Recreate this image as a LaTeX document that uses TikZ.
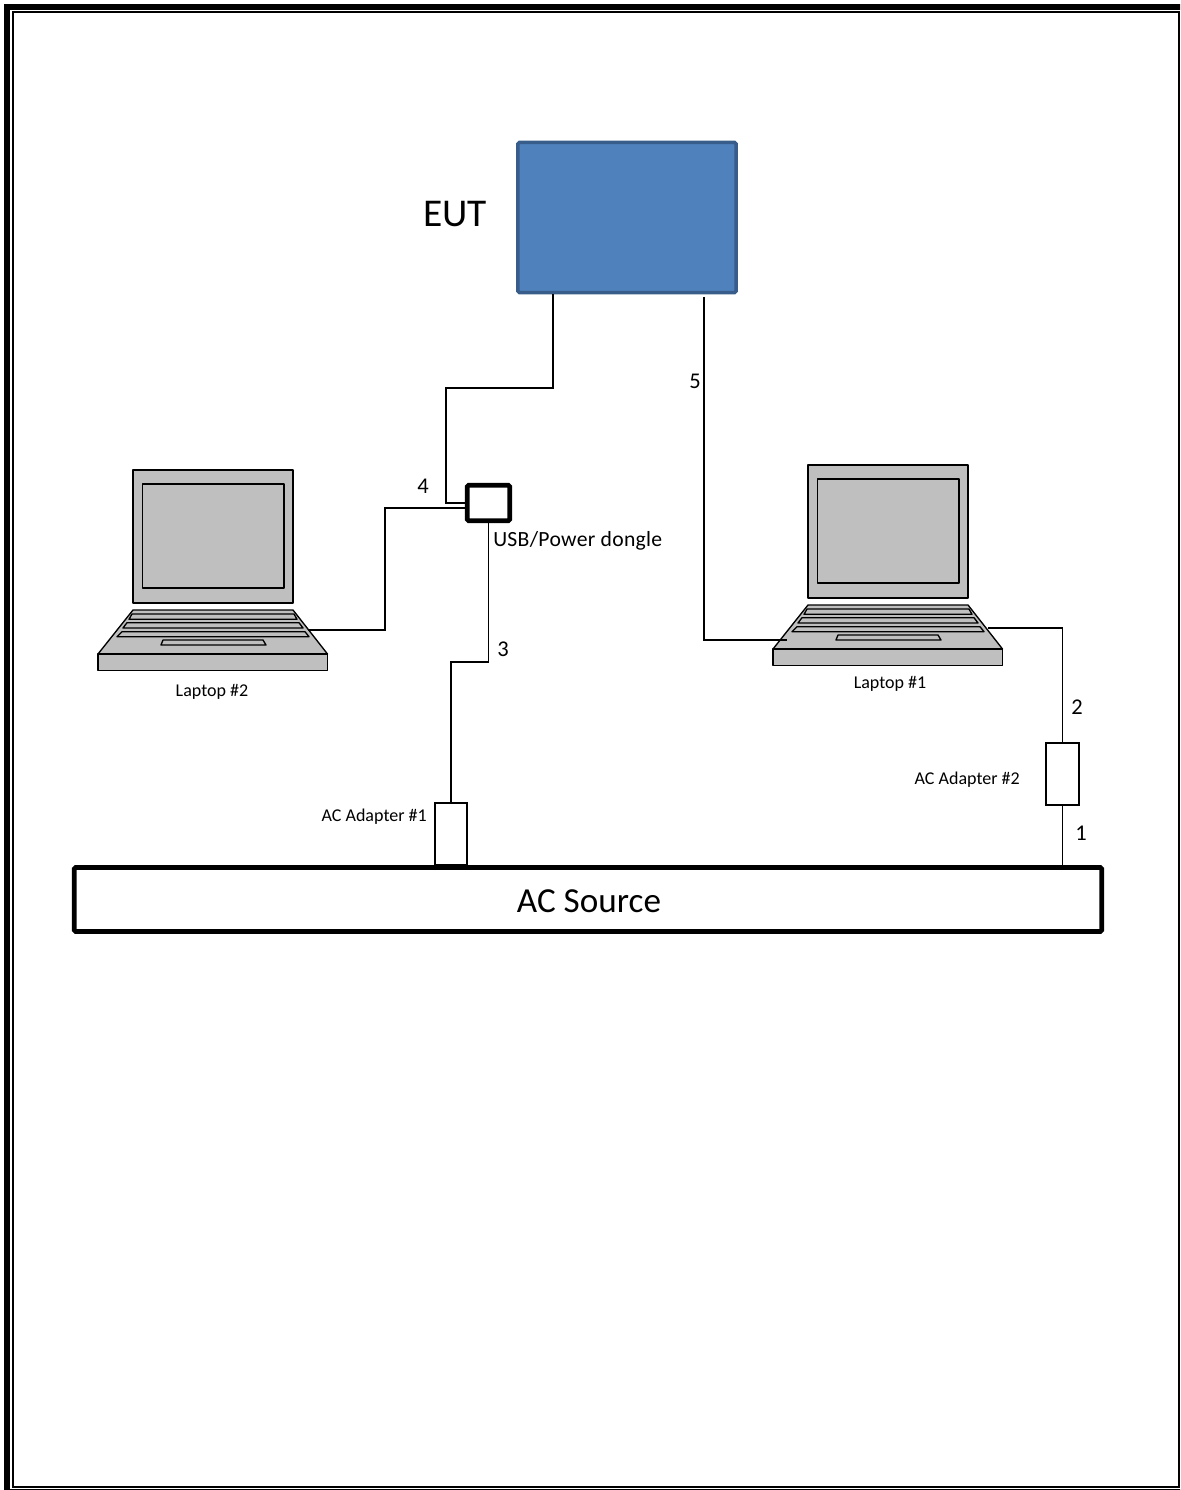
\documentclass[tikz,border=0pt]{standalone}
\usepackage{fontspec}
\setmainfont{Carlito}
\usepackage{xcolor}
\usetikzlibrary{positioning, calc}
\definecolor{EutBlue}{HTML}{4F81BD}
\definecolor{EutEdge}{HTML}{385D8A}
\definecolor{LaptopGray}{HTML}{BFBFBF}

\tikzset{
  laptop/.pic={
    \draw[part] (0,0) rectangle (160,133);
    \draw[part] (9.5,14) rectangle (151,118);
    \draw[part] (0,140) -- (160,140) -- (194.5,184) -- (-35,184) -- cycle;
    \draw[part] (-35,184) rectangle (194.5,200.5);
    \draw[part] (-1,144) -- (161,144) -- (164,149.3) -- (-4,149.3) -- cycle;
    \draw[part] (-6,152.7) -- (166,152.7) -- (170,158) -- (-10,158) -- cycle;
    \draw[part] (-11,161.7) -- (172,161.7) -- (176,166.7) -- (-16,166.7) -- cycle;
    \draw[part] (30,170) -- (130,170) -- (133,175) -- (28,175) -- cycle;
  }
}

\begin{document}
\begin{tikzpicture}[
  x=0.025cm, y=-0.025cm,
  part/.style={draw=black, fill=LaptopGray, line width=0.95pt, line join=round},
  cable/.style={draw=black, line width=0.75pt},
  plug/.style={draw=black, fill=white, line width=0.75pt, inner sep=0pt},
  tag/.style={font=\fontsize{12.8}{15}\selectfont, inner sep=0pt},
  num/.style={font=\fontsize{16}{19}\selectfont, inner sep=0pt}
]
\path[use as bounding box, clip] (0,0) rectangle (1180,1490);
% page frame
\draw[line width=4.3pt] (7,7) rectangle (1186,1492.5);
\draw[line width=1.4pt] (13,11.7) rectangle (1179,1487);

\node[draw=EutEdge, fill=EutBlue, line width=2.5pt, rounded corners=1pt, minimum width=5.45cm, minimum height=3.75cm, inner sep=0pt] (eut) at (627,217.5) {};
\node[font=\fontsize{28}{32}\selectfont, inner sep=0pt] (eutlabel) at (455,214) {EUT};

\node[draw=black, fill=white, line width=3.4pt, rounded corners=1pt, minimum width=1.06cm, minimum height=0.89cm, inner sep=0pt] (dongle) at (488.5,503) {};
\node[font=\fontsize{15.4}{18}\selectfont\addfontfeature{LetterSpace=1.4}, inner sep=0pt, anchor=west] (donglelabel) at (493,541) {USB/Power dongle};

\node[draw=black, fill=white, line width=3.4pt, rounded corners=1pt, minimum width=25.68cm, minimum height=1.6cm, inner sep=0pt] (source) at (588,899.5) {};
\node[font=\fontsize{25}{29}\selectfont, inner sep=0pt] (sourcelabel) at (589,901) {AC Source};

\node[plug, minimum width=0.8cm, minimum height=1.55cm] (adapterA) at (451,834) {};
\node[plug, minimum width=0.825cm, minimum height=1.55cm] (adapterB) at (1062.5,774) {};
\node[tag, anchor=east] (adapterAlabel) at (427,817) {AC Adapter \#1};
\node[tag, anchor=east] (adapterBlabel) at (1020,780) {AC Adapter \#2};

\pic at (133,470) {laptop};
\pic at (808,465) {laptop};
\node[tag] (laptopBlabel) at (212,692) {Laptop \#2};
\node[tag] (laptopAlabel) at (890,684) {Laptop \#1};

\coordinate (eutA) at (553,294);
\coordinate (eutB) at (704,297);
\coordinate (laptopBport) at (308,630);
\coordinate (laptopAleft) at (787,640);
\coordinate (laptopAright) at (988,628);
\coordinate (dongleIn) at (466,508);

\draw[cable] (eutA) |- (446,388) |- (dongle.west);
\draw[cable] (laptopBport) -| (385,508) -- (dongleIn);
\draw[cable] (dongle.south) |- (451,662) -- (adapterA.north);
\draw[cable] (eutB) |- (laptopAleft);
\draw[cable] (laptopAright) -| (adapterB.north);
\draw[cable] (adapterB.south) -- (source.north -| adapterB.south);

\node[num] (numA) at (1081,833) {1};
\node[num] (numB) at (1077,707.5) {2};
\node[num] (numC) at (503,649.5) {3};
\node[num] (numD) at (423,486) {4};
\node[num] (numE) at (695,381.5) {5};
\end{tikzpicture}
\end{document}
